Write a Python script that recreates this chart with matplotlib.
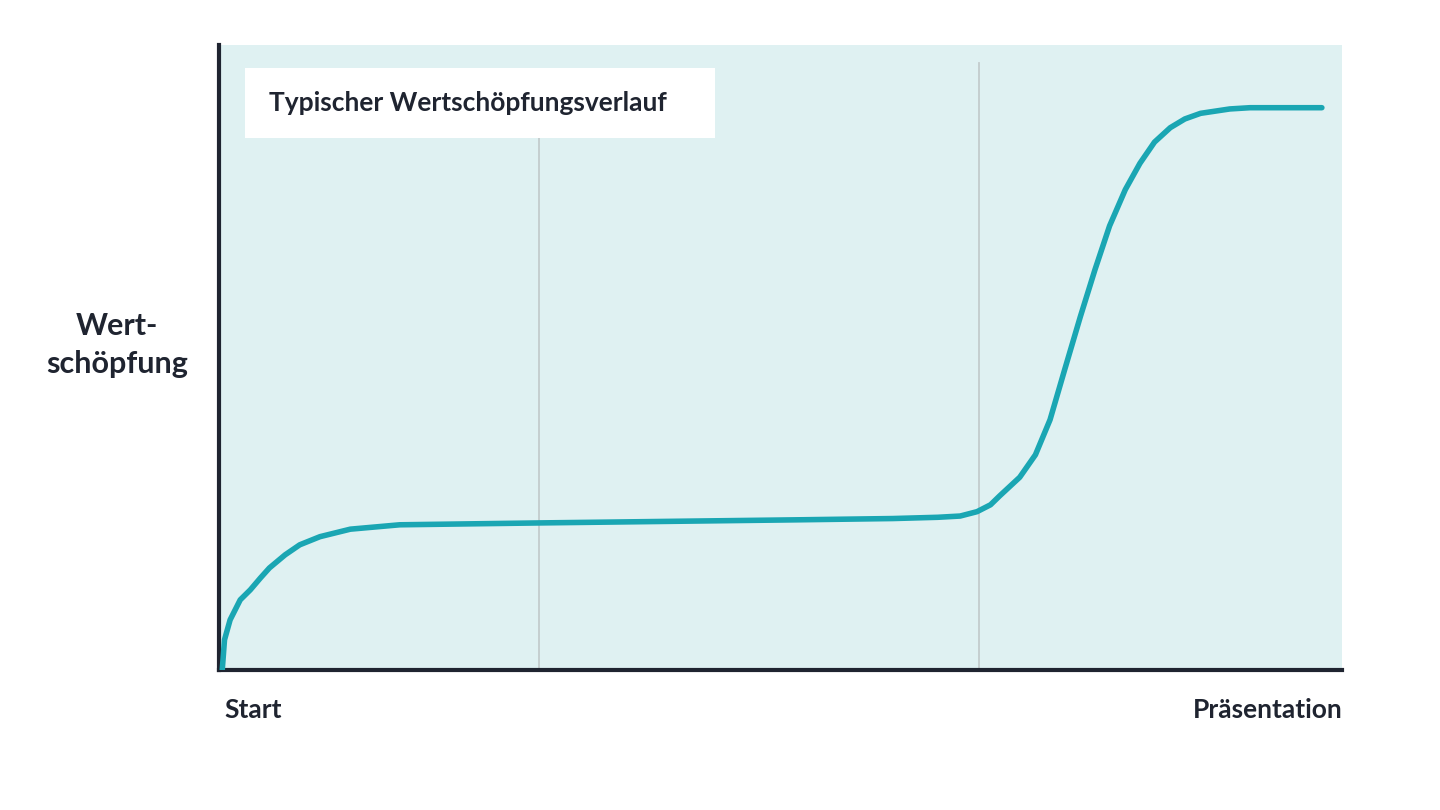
import matplotlib

matplotlib.use("Agg")
import matplotlib.pyplot as plt
from matplotlib.patches import Rectangle

plt.rcParams["font.family"] = ["Lato", "DejaVu Sans"]

# Value-creation curve (x: 0..100 progress, y: 0..100 value)
PROGRESS = [0.3, 0.5, 1.0, 1.9, 2.8, 3.7, 4.5, 5.9, 7.2, 9.0, 11.7, 16.1, 28.6, 51.7, 60.0,
            64.0, 66.0, 67.5, 68.7, 69.5, 71.3, 72.7, 74.0, 75.3, 76.7, 78.0, 79.3, 80.7,
            82.0, 83.3, 84.7, 86.0, 87.4, 90.0, 91.8, 98.2]
VALUE = [0.0, 4.8, 8.0, 11.2, 12.8, 14.7, 16.3, 18.4, 20.0, 21.3, 22.5, 23.2, 23.5, 24.0, 24.2,
         24.4, 24.6, 25.3, 26.4, 27.8, 30.8, 34.4, 40.0, 48.0, 56.5, 64.0, 71.0, 76.8,
         81.0, 84.4, 86.7, 88.1, 89.0, 89.7, 89.9, 89.9]
MARKERS = [28.5, 67.7]
MARKER_TOPS = [89.0, 97.1]

TEXT = "#1f2430"
fig = plt.figure(figsize=(14.4, 8.1), dpi=100)
ax = fig.add_axes([0.152, 0.173, 0.780, 0.772])
ax.set_facecolor("#dff1f2")
ax.set_xlim(0, 100)
ax.set_ylim(0, 100)

for x, top in zip(MARKERS, MARKER_TOPS):
    ax.plot([x, x], [0, top], color="#c3cccd", linewidth=1.3, zorder=1)

ax.plot(PROGRESS, VALUE, color="#1aa6b3", linewidth=4, solid_joinstyle="round",
        solid_capstyle="round", zorder=3)

# title box: 245..715 px wide, 67..137 px tall
ax.add_patch(Rectangle((2.3, 85.1), 41.9, 11.2, facecolor="white", edgecolor="none", zorder=4))
ax.text(4.5, 90.7, "Typischer Wertschöpfungsverlauf", fontsize=19, fontweight="bold",
        color=TEXT, va="center", ha="left", zorder=5)

for side in ["top", "right"]:
    ax.spines[side].set_visible(False)
for side in ["left", "bottom"]:
    ax.spines[side].set_color(TEXT)
    ax.spines[side].set_linewidth(3)
ax.set_xticks([])
ax.set_yticks([])

fig.text(117 / 1440, 1 - 345 / 810, "Wert-\nschöpfung", fontsize=22, fontweight="bold",
         color=TEXT, ha="center", va="center", linespacing=1.45)
fig.text(224 / 1440, 1 - 710 / 810, "Start", fontsize=19, fontweight="bold",
         color=TEXT, ha="left", va="center")
fig.text(1343 / 1440, 1 - 710 / 810, "Präsentation", fontsize=19, fontweight="bold",
         color=TEXT, ha="right", va="center")

fig.savefig("out.png", dpi=100, facecolor="white")
